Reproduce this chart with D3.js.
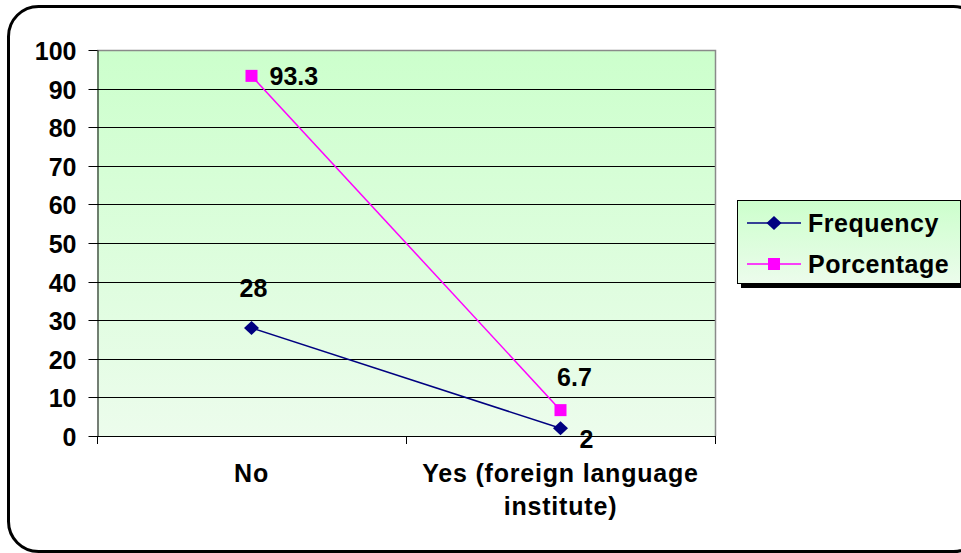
<!DOCTYPE html>
<html><head><meta charset="utf-8">
<script src="https://cdn.jsdelivr.net/npm/d3@7/dist/d3.min.js"></script>
<style>body{margin:0;background:#fff}svg{display:block}text{font-family:Arial,"Liberation Sans",sans-serif;font-weight:bold;fill:#000}</style>
</head><body>
<svg id="c" width="961" height="553"></svg>
<script>
const categories = ["No", "Yes (foreign language institute)"];
const categoryLines = [["No"], ["Yes (foreign language", "institute)"]];
const frequency = [28, 2];
const percentage = [93.3, 6.7];
const yTicks = [0, 10, 20, 30, 40, 50, 60, 70, 80, 90, 100];
const seriesNames = ["Frequency", "Porcentage"];
const seriesColors = ["#000080", "#FF00FF"];

const FS = 25;
const svg = d3.select("#c");
const defs = svg.append("defs");
const g1 = defs.append("linearGradient").attr("id","bg").attr("x1",0).attr("y1",0).attr("x2",0).attr("y2",1);
g1.append("stop").attr("offset","0%").attr("stop-color","#CCFFCC");
g1.append("stop").attr("offset","100%").attr("stop-color","#ECFCEC");

// outer frame
svg.append("rect").attr("x",8.5).attr("y",6.5).attr("width",975).attr("height",545)
  .attr("rx",30).attr("ry",30).attr("fill","#fff").attr("stroke","#000").attr("stroke-width",3);

const L=97, R=715, T=50, B=436;
const x = d3.scaleBand().domain(categories).range([L,R]);
const y = d3.scaleLinear().domain([0,100]).range([B,T]);

svg.append("rect").attr("x",L).attr("y",T).attr("width",R-L).attr("height",B-T).attr("fill","url(#bg)");
// gridlines
svg.append("g").selectAll("line").data(yTicks.filter(v=>v>0&&v<100)).join("line")
  .attr("x1",L).attr("x2",R).attr("y1",d=>Math.round(y(d))+0.5).attr("y2",d=>Math.round(y(d))+0.5)
  .attr("stroke","#000").attr("stroke-width",1);
// grey border top/right
svg.append("path").attr("d",`M${L},${T+0.5}H${R+0.5}V${B}`).attr("fill","none").attr("stroke","#8a8a8a").attr("stroke-width",1.5);

// y axis
const ya = svg.append("g").attr("transform",`translate(${L+0.5},0)`)
  .call(d3.axisLeft(y).tickValues(yTicks).tickSize(9).tickPadding(12).tickSizeOuter(0));
ya.select(".domain").attr("stroke","#000");
ya.selectAll(".tick line").attr("stroke","#000");
ya.selectAll("text").attr("font-size",FS).attr("font-family","Arial, Liberation Sans, sans-serif").attr("font-weight","bold").attr("fill","#000").attr("dy","0.36em");
ya.selectAll(".tick").attr("transform",d=>`translate(0,${Math.round(y(d))+0.5})`);

// x axis
svg.append("line").attr("x1",L).attr("x2",R+1).attr("y1",B+0.5).attr("y2",B+0.5).attr("stroke","#000");
const bounds = [L, ...categories.slice(1).map(c=>x(c)), R];
svg.append("g").selectAll("line").data(bounds).join("line")
  .attr("x1",d=>Math.round(d)+0.5).attr("x2",d=>Math.round(d)+0.5).attr("y1",B).attr("y2",B+8).attr("stroke","#000");
categories.forEach((c,i)=>{
  const t = svg.append("text").attr("text-anchor","middle")
    .attr("font-size",FS).style("letter-spacing","0.8px");
  categoryLines[i].forEach((ln,j)=>t.append("tspan").attr("x",x(c)+x.bandwidth()/2).attr("y",482+j*33).text(ln));
});

const cx = c => x(c)+x.bandwidth()/2;
const line = d3.line().x((d,i)=>cx(categories[i])).y(d=>y(d));
const series = [frequency, percentage];
series.forEach((s,k)=>{
  svg.append("path").datum(s).attr("d",line).attr("fill","none").attr("stroke",seriesColors[k]).attr("stroke-width",1.5);
});
function marker(sel,k,px,py){
  if(k===0){
    sel.append("path").attr("d",`M${px},${py-7}L${px+7.5},${py}L${px},${py+7}L${px-7.5},${py}Z`).attr("fill",seriesColors[k]);
  } else {
    sel.append("rect").attr("x",px-6).attr("y",py-6).attr("width",12).attr("height",12).attr("fill",seriesColors[k]);
  }
}
series.forEach((s,k)=>{
  s.forEach((v,i)=>marker(svg,k,cx(categories[i]),y(v)));
});
// data labels: placement per point [dx, dy, anchor]
const labelPlace = [[[2,-31,"middle"],[19,20,"start"]],[[18,9,"start"],[14,-24,"middle"]]];
series.forEach((s,k)=>{
  s.forEach((v,i)=>{
    const p = labelPlace[k][i];
    svg.append("text").attr("x",cx(categories[i])+p[0]).attr("y",y(v)+p[1])
      .attr("text-anchor",p[2]).attr("font-size",FS).text(v);
  });
});

// legend
const lg = svg.append("g");
lg.append("rect").attr("x",741).attr("y",204).attr("width",224).attr("height",84).attr("fill","#000");
lg.append("rect").attr("x",737.5).attr("y",200.5).attr("width",223).attr("height",83).attr("fill","url(#bg)").attr("stroke","#000");
seriesNames.forEach((n,k)=>{
  const yy = 223 + k*41;
  lg.append("line").attr("x1",747).attr("x2",801).attr("y1",yy).attr("y2",yy).attr("stroke",seriesColors[k]).attr("stroke-width",1.5);
  marker(lg,k,774,yy);
  lg.append("text").attr("x",808).attr("y",yy+9).attr("font-size",FS).style("letter-spacing","0.5px").text(n);
});
</script>
</body></html>
